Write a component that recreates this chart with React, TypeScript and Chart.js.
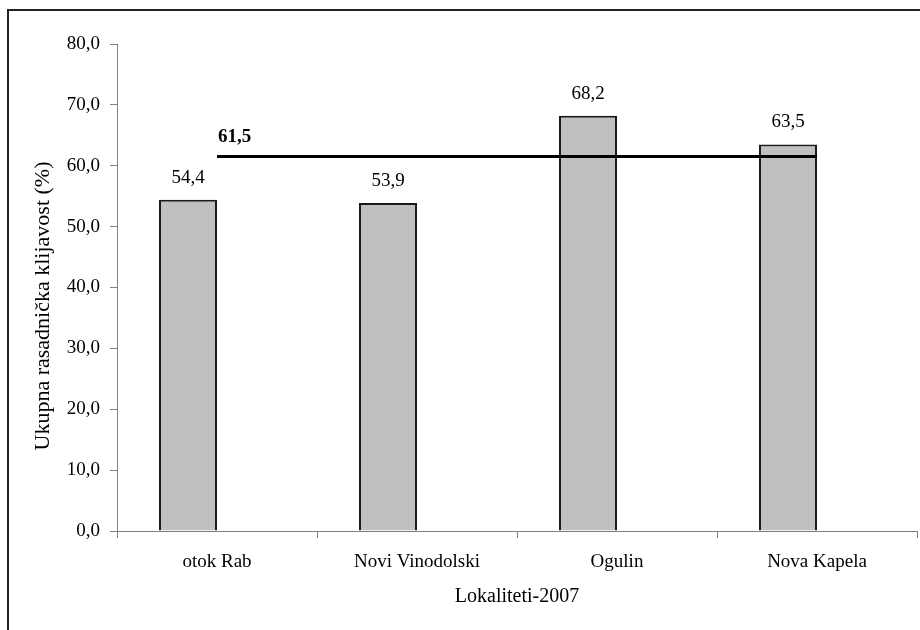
import React, { useEffect, useRef } from "react";
import { Chart, registerables } from "chart.js";

Chart.register(...registerables);

const categories = ["otok Rab", "Novi Vinodolski", "Ogulin", "Nova Kapela"];
const germination = [54.4, 53.9, 68.2, 63.5];
const placeholder = [null, null, null, null];
const averageValue = 61.5;
const averageLine = [averageValue, averageValue, averageValue, averageValue];
const yTitle = "Ukupna rasadnička klijavost (%)";
const xTitle = "Lokaliteti-2007";

const FONT = "'Liberation Serif', 'Times New Roman', serif";
const fmt = (v: number) => v.toFixed(1).replace(".", ",");

export default function App() {
  const ref = useRef<HTMLCanvasElement | null>(null);

  useEffect(() => {
    if (!ref.current) return;
    const labelsPlugin = {
      id: "customLabels",
      afterDraw(chart: any) {
        const ctx = chart.ctx;
        ctx.save();
        // frame
        ctx.strokeStyle = "#222";
        ctx.lineWidth = 2;
        ctx.strokeRect(8, 10, 960, 700);
        // bar labels
        const meta = chart.getDatasetMeta(0);
        ctx.fillStyle = "#000";
        ctx.font = `19px ${FONT}`;
        ctx.textAlign = "center";
        ctx.textBaseline = "middle";
        meta.data.forEach((el: any, i: number) => {
          ctx.fillText(fmt(germination[i]), el.x, el.y - 22);
        });
        // average label
        const lm = chart.getDatasetMeta(2);
        const p = lm.data[0];
        ctx.font = `bold 19px ${FONT}`;
        ctx.textAlign = "left";
        ctx.fillText(fmt(averageValue), p.x + 1, p.y - 20);
        // y title
        ctx.font = `22px ${FONT}`;
        ctx.translate(43, 306);
        ctx.rotate(-Math.PI / 2);
        ctx.textAlign = "center";
        ctx.fillText(yTitle, 0, 0);
        ctx.restore();
      },
    };

    const chart = new Chart(ref.current, {
      type: "bar",
      data: {
        labels: categories,
        datasets: [
          {
            type: "bar",
            data: germination,
            backgroundColor: "#C0C0C0",
            borderColor: "#1a1a1a",
            borderWidth: 2,
            categoryPercentage: 0.58,
            barPercentage: 1,
            order: 1,
          } as any,
          {
            type: "bar",
            data: placeholder,
            backgroundColor: "transparent",
            borderWidth: 0,
            categoryPercentage: 0.58,
            barPercentage: 1,
            order: 2,
          } as any,
          {
            type: "line",
            data: averageLine,
            borderColor: "#000",
            borderWidth: 3,
            pointRadius: 0,
            fill: false,
            order: 0,
          } as any,
        ],
      },
      options: {
        animation: false,
        responsive: false,
        layout: { padding: { top: 44, right: 3, left: 0, bottom: 0 } },
        plugins: {
          legend: { display: false },
          tooltip: { enabled: false },
        },
        scales: {
          x: {
            grid: {
              offset: true,
              drawOnChartArea: false,
              drawTicks: true,
              tickLength: 7,
              color: "#808080",
            },
            border: { display: true, color: "#808080", width: 1 },
            ticks: {
              color: "#000",
              font: { family: FONT, size: 19 },
              padding: 13,
              maxRotation: 0,
            },
            title: {
              display: true,
              text: xTitle,
              color: "#000",
              font: { family: FONT, size: 20 },
              padding: { top: 0, bottom: 21 },
            },
            afterFit(scale: any) {
              scale.height = 99;
            },
          },
          y: {
            min: 0,
            max: 80,
            grid: {
              drawOnChartArea: false,
              drawTicks: true,
              tickLength: 7,
              color: "#808080",
            },
            border: { display: true, color: "#808080", width: 1 },
            ticks: {
              stepSize: 10,
              color: "#000",
              font: { family: FONT, size: 19 },
              padding: 10,
              callback: (v: any) => fmt(Number(v)),
            },
            afterFit(scale: any) {
              scale.width = 117;
            },
          },
        },
      },
      plugins: [labelsPlugin],
    });
    return () => chart.destroy();
  }, []);

  return (
    <div style={{ position: "absolute", left: 0, top: 0, width: 920, height: 630, background: "#fff" }}>
      <canvas ref={ref} width={920} height={630} style={{ display: "block" }} />
    </div>
  );
}
